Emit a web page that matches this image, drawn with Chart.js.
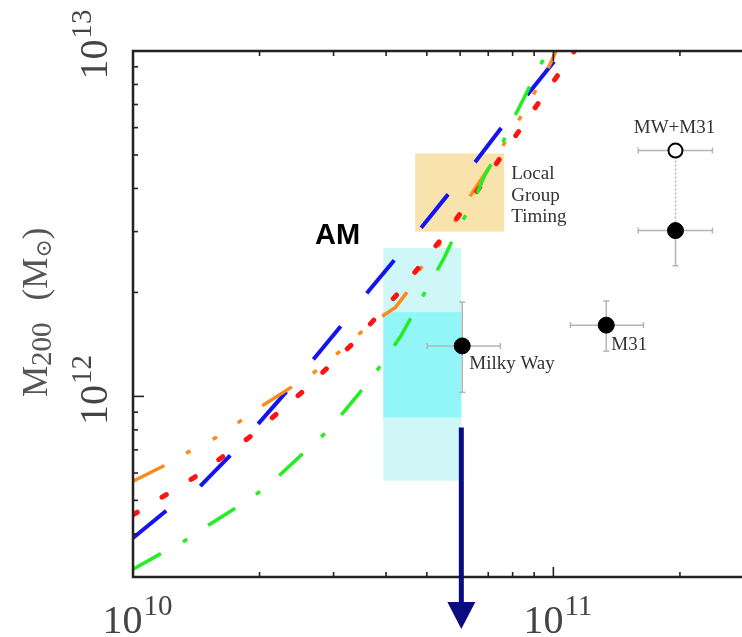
<!DOCTYPE html>
<html>
<head>
<meta charset="utf-8">
<script src="https://cdn.jsdelivr.net/npm/chart.js@4.4.0/dist/chart.umd.min.js"></script>
<style>
  html, body { margin: 0; padding: 0; background: #fff; }
  #wrap { width: 742px; height: 637px; }
</style>
</head>
<body>
<div id="wrap"><canvas id="chart" width="742" height="637"></canvas></div>
<script>
// abundance matching curves: stellar mass (x) -> halo mass M200 (y)
const blueX = [1.00e10, 1.20e10, 1.44e10, 1.57e10, 1.71e10, 1.99e10, 2.33e10, 2.70e10, 3.15e10, 3.61e10, 4.23e10, 4.87e10, 5.69e10, 6.56e10, 7.64e10, 8.77e10, 1.02e11, 1.07e11];
const blueY = [3.89e11, 4.67e11, 5.47e11, 6.10e11, 6.78e11, 8.35e11, 1.04e12, 1.29e12, 1.62e12, 2.00e12, 2.52e12, 3.10e12, 3.92e12, 4.82e12, 6.14e12, 7.60e12, 9.55e12, 1.02e13];

const orangeX = [1.00e10, 1.185e10, 1.36e10, 1.576e10, 1.807e10, 2.018e10, 2.377e10, 2.698e10, 3.09e10, 3.49e10, 3.89e10, 4.21e10, 4.467e10, 4.80e10, 5.355e10, 5.91e10, 6.33e10, 7.06e10, 7.59e10, 8.32e10, 9.03e10, 9.65e10, 1.03e11];
const orangeY = [5.68e11, 6.30e11, 6.92e11, 7.60e11, 8.51e11, 9.35e11, 1.062e12, 1.174e12, 1.343e12, 1.536e12, 1.697e12, 1.81e12, 1.99e12, 2.32e12, 2.75e12, 3.29e12, 3.79e12, 4.63e12, 5.33e12, 6.38e12, 7.60e12, 8.75e12, 1.04e13];

const redX = [1.00e10, 1.397e10, 1.888e10, 2.52e10, 3.30e10, 4.275e10, 5.445e10, 6.78e10, 8.43e10, 1.045e11, 1.153e11];
const redY = [4.54e11, 5.82e11, 7.60e11, 1.027e12, 1.406e12, 1.99e12, 2.88e12, 4.13e12, 6.05e12, 8.81e12, 1.05e13];

const greenX = [1.00e10, 1.172e10, 1.337e10, 1.517e10, 1.788e10, 2.018e10, 2.265e10, 2.61e10, 2.91e10, 3.21e10, 3.63e10, 3.98e10, 4.35e10, 4.72e10, 5.09e10, 5.50e10, 5.94e10, 6.45e10, 6.85e10, 7.52e10, 7.94e10, 8.53e10, 9.26e10, 1.00e11];
const greenY = [3.16e11, 3.52e11, 3.84e11, 4.25e11, 4.82e11, 5.33e11, 6.01e11, 7.06e11, 7.96e11, 9.17e11, 1.098e12, 1.281e12, 1.504e12, 1.80e12, 2.13e12, 2.52e12, 3.08e12, 3.64e12, 4.34e12, 5.30e12, 6.18e12, 7.35e12, 9.03e12, 1.05e13];

// observed haloes
const ptNames = ["Milky Way", "M31", "", "MW+M31"];
const ptX   = [6.07e10, 1.336e11, 1.952e11, 1.952e11];
const ptY   = [1.40e12, 1.608e12, 3.02e12, 5.15e12];
const ptXLo = [5.01e10, 1.098e11, 1.592e11, 1.592e11];
const ptXHi = [7.48e10, 1.638e11, 2.39e11, 2.39e11];
const ptYLo = [1.027e12, 1.352e12, 2.39e12, null];
const ptYHi = [1.875e12, 1.888e12, 5.15e12, null];
const ptOpen = [false, false, false, true];

// shaded ranges
const lgBoxX = [4.69e10, 7.64e10];
const lgBoxY = [3.00e12, 5.05e12];
const mwBoxX = [3.94e10, 6.04e10];
const mwOuterY = [5.70e11, 2.69e12];
const mwInnerY = [8.69e11, 1.754e12];

// arrow (upper limit)
const arrowX = 6.04e10;
const arrowTopY = 8.13e11;

// axes
const xMin = 1e10, xMax = 2.81e11;
const yMin = 3e11, yMax = 1e13;
const xMajor = [1e10, 1e11];
const xMinor = [2e10, 3e10, 4e10, 5e10, 6e10, 7e10, 8e10, 9e10, 2e11];
const yMajor = [1e12, 1e13];
const yMinor = [4e11, 5e11, 6e11, 7e11, 8e11, 9e11, 2e12, 3e12, 4e12, 5e12, 6e12, 7e12, 8e12, 9e12];
const xTickExp = ["10", "11"];
const yTickExp = ["12", "13"];

function pts(xs, ys) {
  return xs.map((v, i) => ({ x: v, y: ys[i] }));
}

function line(ctx, x1, y1, x2, y2) {
  ctx.beginPath();
  ctx.moveTo(x1, y1);
  ctx.lineTo(x2, y2);
  ctx.stroke();
}

function fillBox(ctx, x, y, bx, by) {
  const l = x.getPixelForValue(bx[0]), r = x.getPixelForValue(bx[1]);
  const t = y.getPixelForValue(by[1]), b = y.getPixelForValue(by[0]);
  ctx.fillRect(l, t, r - l, b - t);
}

const SERIF = '"Liberation Serif", "Times New Roman", "DejaVu Serif", serif';

const decor = {
  id: "decor",
  beforeDatasetsDraw(chart) {
    const { ctx, scales: { x, y } } = chart;
    ctx.save();
    ctx.fillStyle = "#cff7f7";
    fillBox(ctx, x, y, mwBoxX, mwOuterY);
    ctx.fillStyle = "#92f6f8";
    fillBox(ctx, x, y, mwBoxX, mwInnerY);
    ctx.fillStyle = "#f9e3ac";
    fillBox(ctx, x, y, lgBoxX, lgBoxY);

    // error bars
    ctx.strokeStyle = "#b4b4b4";
    ctx.lineWidth = 1.5;
    ptX.forEach((v, i) => {
      const px = x.getPixelForValue(v), py = y.getPixelForValue(ptY[i]);
      const l = x.getPixelForValue(ptXLo[i]), r = x.getPixelForValue(ptXHi[i]);
      ctx.setLineDash([]);
      line(ctx, l, py, r, py);
      line(ctx, l, py - 3, l, py + 3);
      line(ctx, r, py - 3, r, py + 3);
      if (ptYLo[i] !== null) {
        const b = y.getPixelForValue(ptYLo[i]);
        line(ctx, px, py, px, b);
        line(ctx, px - 3, b, px + 3, b);
      }
      if (ptYHi[i] !== null) {
        const t = y.getPixelForValue(ptYHi[i]);
        if (i === 2) {
          // dotted link up to the timing estimate
          ctx.setLineDash([2, 2]);
          line(ctx, px, py, px, t);
          ctx.setLineDash([]);
        } else {
          line(ctx, px, py, px, t);
          line(ctx, px - 3, t, px + 3, t);
        }
      }
    });
    ctx.restore();
  },
  afterDatasetsDraw(chart) {
    const { ctx, chartArea: a, scales: { x, y } } = chart;
    ctx.save();

    // frame
    ctx.strokeStyle = "#222";
    ctx.lineWidth = 2.5;
    ctx.beginPath();
    ctx.moveTo(a.right + 2, a.top);
    ctx.lineTo(a.left, a.top);
    ctx.lineTo(a.left, a.bottom);
    ctx.lineTo(a.right + 2, a.bottom);
    ctx.stroke();

    // inward ticks
    ctx.lineWidth = 1.6;
    xMinor.forEach(v => {
      const px = x.getPixelForValue(v);
      line(ctx, px, a.bottom, px, a.bottom - 5);
      line(ctx, px, a.top, px, a.top + 5);
    });
    xMajor.forEach(v => {
      const px = x.getPixelForValue(v);
      line(ctx, px, a.bottom, px, a.bottom - 10);
      line(ctx, px, a.top, px, a.top + 10);
    });
    yMinor.forEach(v => {
      const py = y.getPixelForValue(v);
      line(ctx, a.left, py, a.left + 5, py);
    });
    yMajor.forEach(v => {
      const py = y.getPixelForValue(v);
      line(ctx, a.left, py, a.left + 11, py);
    });

    // tick labels 10^n
    ctx.fillStyle = "#444";
    ctx.textBaseline = "alphabetic";
    ctx.textAlign = "left";
    const mainFont = "40px " + SERIF, supFont = "29px " + SERIF;
    xMajor.forEach((v, i) => {
      ctx.font = mainFont;
      const w1 = ctx.measureText("10").width;
      ctx.font = supFont;
      const w2 = ctx.measureText(xTickExp[i]).width;
      const x0 = x.getPixelForValue(v) + 4 - (w1 + w2) / 2;
      ctx.font = mainFont;
      ctx.fillText("10", x0, a.bottom + 56);
      ctx.font = supFont;
      ctx.fillText(xTickExp[i], x0 + w1 + 1, a.bottom + 38);
    });
    yMajor.forEach((v, i) => {
      ctx.save();
      ctx.translate(a.left - 26, y.getPixelForValue(v));
      ctx.rotate(-Math.PI / 2);
      ctx.font = mainFont;
      const w1 = ctx.measureText("10").width;
      ctx.font = supFont;
      const w2 = ctx.measureText(yTickExp[i]).width;
      const x0 = 6 - (w1 + w2) / 2;
      ctx.font = mainFont;
      ctx.fillText("10", x0, 0);
      ctx.font = supFont;
      ctx.fillText(yTickExp[i], x0 + w1 + 1, -16);
      ctx.restore();
    });

    // y axis title  M200 (M_sun)
    ctx.save();
    ctx.translate(47, 397);
    ctx.rotate(-Math.PI / 2);
    ctx.fillStyle = "#555";
    let cx = 0;
    ctx.font = "35px " + SERIF;
    ctx.fillText("M", cx, 0);
    cx += ctx.measureText("M").width;
    ctx.font = "29px " + SERIF;
    ctx.fillText("200", cx, 4);
    cx += ctx.measureText("200").width + 22;
    ctx.font = "35px " + SERIF;
    ctx.fillText("(M", cx, 0);
    cx += ctx.measureText("(M").width;
    ctx.font = "22px " + SERIF;
    ctx.fillText("\u2299", cx, 4);
    cx += ctx.measureText("\u2299").width;
    ctx.font = "35px " + SERIF;
    ctx.fillText(")", cx, 0);
    ctx.restore();

    // annotations
    ctx.fillStyle = "#000";
    ctx.font = 'bold 29px "Liberation Sans", Arial, sans-serif';
    ctx.textAlign = "left";
    ctx.fillText("AM", x.getPixelForValue(2.71e10), y.getPixelForValue(2.76e12));

    ctx.fillStyle = "#333";
    ctx.font = "19px " + SERIF;
    const lgL = x.getPixelForValue(lgBoxX[1]) + 7;
    const lgT = y.getPixelForValue(lgBoxY[1]);
    ["Local", "Group", "Timing"].forEach((s, i) => ctx.fillText(s, lgL, lgT + 26 + i * 21.5));

    const p0 = [x.getPixelForValue(ptX[0]), y.getPixelForValue(ptY[0])];
    ctx.fillText(ptNames[0], p0[0] + 7, p0[1] + 23);
    const p1 = [x.getPixelForValue(ptX[1]), y.getPixelForValue(ptY[1])];
    ctx.fillText(ptNames[1], p1[0] + 5, p1[1] + 25);
    const p3 = [x.getPixelForValue(ptX[3]), y.getPixelForValue(ptY[3])];
    ctx.textAlign = "center";
    ctx.fillText(ptNames[3], p3[0] - 1, p3[1] - 18);

    // arrow
    const ax = x.getPixelForValue(arrowX);
    const ay = y.getPixelForValue(arrowTopY);
    const tip = a.bottom + 52;
    ctx.strokeStyle = "#0b0b82";
    ctx.fillStyle = "#0b0b82";
    ctx.lineWidth = 5;
    line(ctx, ax, ay, ax, tip - 24);
    ctx.beginPath();
    ctx.moveTo(ax - 14, tip - 27);
    ctx.lineTo(ax + 14, tip - 27);
    ctx.lineTo(ax, tip);
    ctx.closePath();
    ctx.fill();

    ctx.restore();
  }
};

function curve(xs, ys, color, width, dash, cap) {
  return {
    type: "line",
    data: pts(xs, ys),
    borderColor: color,
    borderWidth: width,
    borderDash: dash,
    borderCapStyle: cap || "butt",
    pointRadius: 0,
    tension: 0,
    fill: false,
    clip: 1
  };
}

new Chart(document.getElementById("chart"), {
  type: "scatter",
  data: {
    datasets: [
      {
        type: "scatter",
        data: pts(ptX, ptY),
        pointRadius: [8, 8, 8, 7],
        pointBackgroundColor: ptOpen.map(o => o ? "#fff" : "#000"),
        pointBorderColor: "#000",
        pointBorderWidth: [1, 1, 1, 2]
      },
      curve(greenX, greenY, "#22ee22", 3.5, [32, 25, 5, 25]),
      curve(redX, redY, "#ff1212", 5, [5, 29], "round"),
      curve(orangeX, orangeY, "#ff8a1c", 3.5, [35, 25, 5, 25, 5, 25, 5, 25]),
      curve(blueX, blueY, "#1414f2", 4, [43, 42])
    ]
  },
  options: {
    responsive: false,
    animation: false,
    layout: { autoPadding: false, padding: { left: 133, top: 51, right: 0, bottom: 60 } },
    plugins: { legend: { display: false }, tooltip: { enabled: false } },
    scales: {
      x: { type: "logarithmic", min: xMin, max: xMax, display: false },
      y: { type: "logarithmic", min: yMin, max: yMax, display: false }
    }
  },
  plugins: [decor]
});
</script>
</body>
</html>
